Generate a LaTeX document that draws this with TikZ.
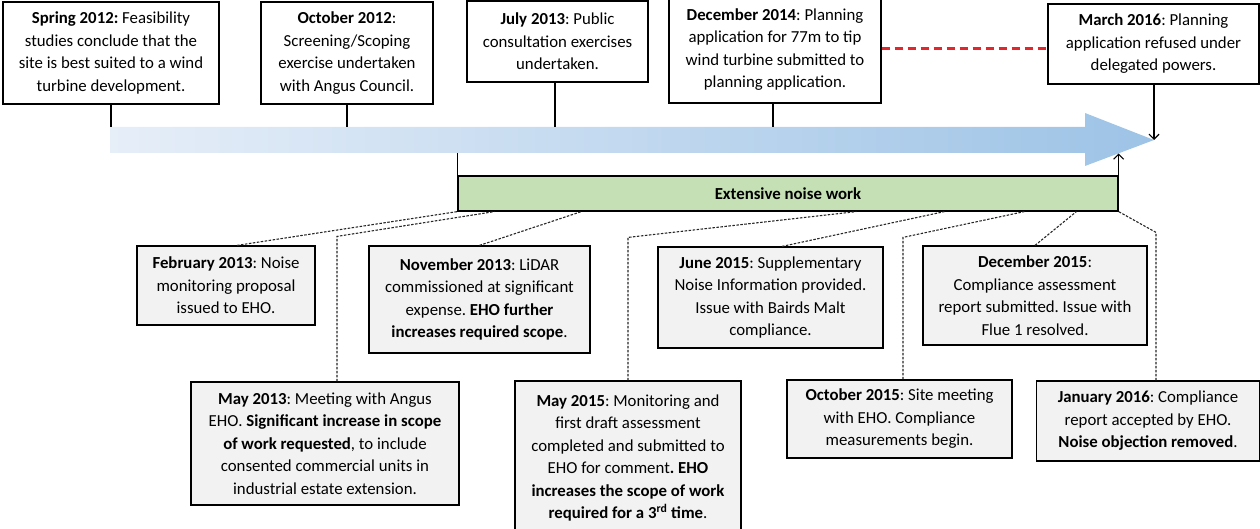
\documentclass[tikz,border=0pt]{standalone}
\usepackage{fontspec}
\setmainfont{Carlito}
\frenchspacing
\usetikzlibrary{arrows.meta}
\definecolor{shaftlight}{HTML}{E6EEF8}
\definecolor{shaftdark}{HTML}{9DC3E6}
\definecolor{noisegreen}{HTML}{C5E0B4}
\definecolor{notegray}{HTML}{F2F2F2}
\definecolor{refusedred}{HTML}{E3262B}

\begin{document}
\begin{tikzpicture}[x=1pt, y=-1pt,
      event/.style = {shape=rectangle, draw, line width=1.2pt, align=center,
        inner sep=0pt, font=\fontsize{16.8}{22.5}\selectfont},
      topbox/.style = {event, fill=white},
      notebox/.style = {event, fill=notegray},
      stem/.style = {line width=1.2pt},
      link/.style = {line width=1.1pt, black!85, dash pattern=on 2.5pt off 1.5pt},
      refused/.style = {line width=3pt, refusedred, dash pattern=on 8pt off 5pt},
      pointer/.style = {line width=1.2pt, -{Straight Barb[length=5pt, width=10pt]}}
    ]
      \useasboundingbox (0,0) rectangle (1260,529);
      \coordinate (shafttop) at (0,127);
      \coordinate (shaftbot) at (0,153);
      \coordinate (tip) at (1154,140);
      \shade[left color=shaftlight, right color=shaftdark]
        (110,127) -- (1085,127) -- (1085,113) -- (tip) -- (1085,166)
        -- (1085,153) -- (110,153) -- cycle;

      \node[topbox, minimum width=216pt, minimum height=102pt] (spring) at (111,53)
        {\textbf{Spring 2012:} Feasibility\\studies conclude that the\\site is best suited to a wind\\turbine development.};
      \node[topbox, minimum width=172pt, minimum height=102pt] (oct12) at (347,53)
        {\textbf{October 2012}:\\Screening/Scoping\\exercise undertaken\\with Angus Council.};
      \node[topbox, minimum width=181pt, minimum height=81pt] (jul13) at (557.5,41.5)
        {\textbf{July 2013}: Public\\consultation exercises\\undertaken.};
      \node[topbox, minimum width=212pt, minimum height=107pt] (dec14) at (775,49.5)
        {\textbf{December 2014}: Planning\\application for 77m to tip\\wind turbine submitted to\\planning application.};
      \node[topbox, minimum width=211pt, minimum height=80pt] (mar16) at (1153.5,44)
        {\textbf{March 2016}: Planning\\application refused under\\delegated powers.};

      \node[notebox, fill=noisegreen, minimum width=660pt, minimum height=35pt] (noise) at (788,193.5)
        {\textbf{Extensive noise work}};

      \node[notebox, minimum width=178pt, minimum height=79pt] (feb13) at (226,285.5)
        {\textbf{February 2013}: Noise\\monitoring proposal\\issued to EHO.};
      \node[notebox, minimum width=221pt, minimum height=107pt] (nov13) at (479.5,299.5)
        {\textbf{November 2013}: LiDAR\\commissioned at significant\\expense. \textbf{EHO further}\\\textbf{increases required scope}.};
      \node[notebox, minimum width=225pt, minimum height=101pt] (jun15) at (770.5,297.5)
        {\textbf{June 2015}: Supplementary\\Noise Information provided.\\Issue with Bairds Malt\\compliance.};
      \node[notebox, minimum width=224pt, minimum height=99pt] (dec15) at (1035,295.5)
        {\textbf{December 2015}:\\Compliance assessment\\report submitted. Issue with\\Flue 1 resolved.};
      \node[notebox, minimum width=268pt, minimum height=123pt] (may13) at (325,443.5)
        {\textbf{May 2013}: Meeting with Angus\\EHO. \textbf{Significant increase in scope}\\\textbf{of work requested}, to include\\consented commercial units in\\industrial estate extension.};
      \node[notebox, minimum width=226pt, minimum height=154pt] (may15) at (628,458)
        {\textbf{May 2015}: Monitoring and\\first draft assessment\\completed and submitted to\\EHO for comment\textbf{. EHO}\\\textbf{increases the scope of work}\\\textbf{required for a 3\textsuperscript{rd} time}.};
      \node[notebox, minimum width=225pt, minimum height=78pt] (oct15) at (899.5,419)
        {\textbf{October 2015}: Site meeting\\with EHO. Compliance\\measurements begin.};
      \node[notebox, minimum width=223pt, minimum height=80pt] (jan16) at (1148,421)
        {\textbf{January 2016}: Compliance\\report accepted by EHO.\\\textbf{Noise objection removed}.};

      \draw[stem] (spring.south) -- (spring.south |- shafttop);
      \draw[stem] (oct12.south) -- (oct12.south |- shafttop);
      \draw[stem] ([xshift=-2.5pt]jul13.south) -- ([xshift=-2.5pt]jul13.south |- shafttop);
      \draw[stem] ([xshift=-2pt]dec14.south) -- ([xshift=-2pt]dec14.south |- shafttop);
      \draw[refused] ([yshift=-5pt]dec14.east |- mar16.west) -- ([yshift=-5pt]mar16.west);
      \draw[pointer] (mar16.south -| tip) -- (tip);

      \draw[stem] (noise.north west) -- (noise.north west |- shaftbot);
      \draw[pointer] (noise.north east) -- ++(0,-22);

      \draw[link] ([xshift=11pt]feb13.north) -- (noise.south west);
      \draw[link] ([xshift=12pt]may13.north) -- ++(0,-145) -- ([xshift=37pt]noise.south west);
      \draw[link] (nov13.north) -- ([xshift=124pt]noise.south west);
      \draw[link] (may15.north) -- ++(0,-143) -- ([xshift=399pt]noise.south west);
      \draw[link] ([xshift=11.5pt]jun15.north) -- ([xshift=487pt]noise.south west);
      \draw[link] ([xshift=3.5pt]oct15.north) -- ++(0,-142) -- ([xshift=567pt]noise.south west);
      \draw[link] (dec15.north) -- ([xshift=619pt]noise.south west);
      \draw[link] ([xshift=8pt]jan16.north) -- ++(0,-148) -- (noise.south east);
    \end{tikzpicture}
\end{document}
